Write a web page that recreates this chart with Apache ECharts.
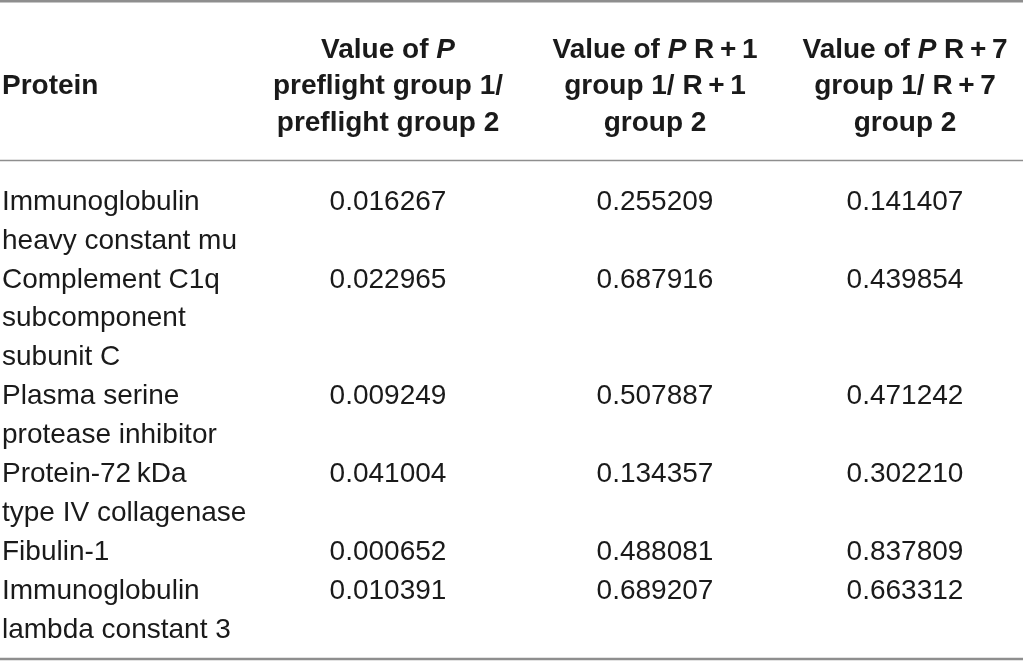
<!DOCTYPE html>
<html>
<head>
<meta charset="utf-8">
<script src="https://cdn.jsdelivr.net/npm/echarts@6/dist/echarts.min.js"></script>
<style>
  html, body { margin: 0; padding: 0; background: #fff; }
  #chart { width: 1023px; height: 668px; }
</style>
</head>
<body>
<div id="chart"></div>
<script>
// 表格数据
const headerProtein = ['Protein'];
const headerPreflight = ['{b|Value of }{bi|P}', '{b|preflight group 1/}', '{b|preflight group 2}'];
const headerR1 = ['{b|Value of }{bi|P}{b| R\u2009+\u20091}', '{b|group 1/ R\u2009+\u20091}', '{b|group 2}'];
const headerR7 = ['{b|Value of }{bi|P}{b| R\u2009+\u20097}', '{b|group 1/ R\u2009+\u20097}', '{b|group 2}'];

const proteins = [
  ['Immunoglobulin', 'heavy constant mu'],
  ['Complement C1q', 'subcomponent', 'subunit C'],
  ['Plasma serine', 'protease inhibitor'],
  ['Protein-72\u2009kDa', 'type IV collagenase'],
  ['Fibulin-1'],
  ['Immunoglobulin', 'lambda constant 3']
];
const pPreflight = [0.016267, 0.022965, 0.009249, 0.041004, 0.000652, 0.010391];
const pR1 = [0.255209, 0.687916, 0.507887, 0.134357, 0.488081, 0.689207];
const pR7 = [0.141407, 0.439854, 0.471242, 0.302210, 0.837809, 0.663312];

// 版式
const W = 1023, H = 668;
const colX = [2, 388, 655, 905];
const headLine0 = 50, headStep = 36.5;
const bodyLine0 = 202, bodyStep = 38.9;
const rules = [[1.3, 2.6], [160.5, 1.6], [659, 2.6]];
const FONT = '"Liberation Sans", Arial, Helvetica, sans-serif';

const cells = [];
cells.push({ x: colX[0], y: headLine0 + headStep, text: '{b|' + headerProtein[0] + '}', align: 'left' });
[headerPreflight, headerR1, headerR7].forEach((h, c) => {
  h.forEach((t, i) => {
    cells.push({ x: colX[c + 1], y: headLine0 + i * headStep, text: t, align: 'center' });
  });
});

let line = 0;
proteins.forEach((p, r) => {
  const y0 = bodyLine0 + line * bodyStep;
  p.forEach((t, i) => {
    cells.push({ x: colX[0], y: bodyLine0 + (line + i) * bodyStep, text: t, align: 'left' });
  });
  [pPreflight, pR1, pR7].forEach((arr, c) => {
    cells.push({ x: colX[c + 1], y: y0, text: arr[r].toFixed(6), align: 'center' });
  });
  line += p.length;
});

const chart = echarts.init(document.getElementById('chart'));
chart.setOption({
  animation: false,
  grid: { left: 0, right: 0, top: 0, bottom: 0 },
  xAxis: { type: 'value', min: 0, max: W, show: false },
  yAxis: { type: 'value', min: 0, max: H, inverse: true, show: false },
  series: [
    {
      type: 'custom',
      silent: true,
      data: rules,
      renderItem: function (params, api) {
        const y = api.value(0);
        const a = api.coord([0, y]);
        const b = api.coord([W, y]);
        return {
          type: 'line',
          shape: { x1: a[0], y1: a[1], x2: b[0], y2: b[1] },
          style: { stroke: '#8e8e8e', lineWidth: api.value(1) }
        };
      }
    },
    {
      type: 'custom',
      silent: true,
      data: cells.map((c, i) => [c.x, c.y, i]),
      renderItem: function (params, api) {
        const c = cells[api.value(2)];
        const pt = api.coord([api.value(0), api.value(1)]);
        return {
          type: 'text',
          x: pt[0],
          y: pt[1],
          style: {
            text: c.text,
            fill: '#1a1a1a',
            fontSize: 28,
            fontFamily: FONT,
            align: c.align,
            verticalAlign: 'middle',
            rich: {
              b: { fontSize: 28, fontFamily: FONT, fontWeight: 'bold', fill: '#1a1a1a' },
              bi: { fontSize: 28, fontFamily: FONT, fontWeight: 'bold', fontStyle: 'italic', fill: '#1a1a1a' }
            }
          }
        };
      }
    }
  ]
});
</script>
</body>
</html>
